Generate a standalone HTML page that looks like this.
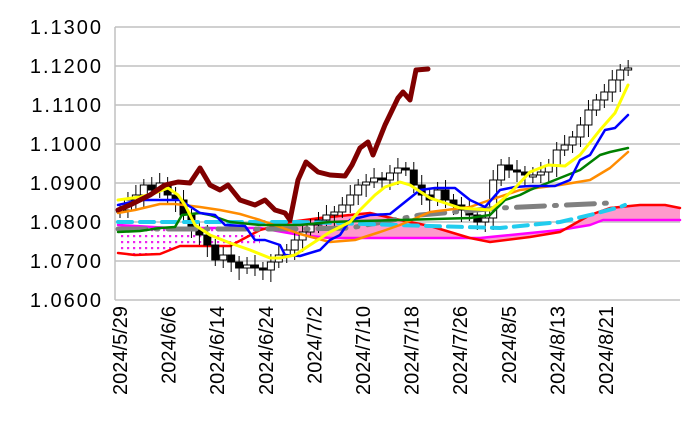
<!DOCTYPE html>
<html><head><meta charset="utf-8"><style>
body{margin:0;background:#fff}
svg{display:block}
text{font-family:"Liberation Sans",sans-serif;font-size:20px;fill:#000}
.yl text{letter-spacing:2px}
</style></head><body>
<svg id="s" width="682" height="437" xmlns="http://www.w3.org/2000/svg">
<defs><pattern id="dots" width="6" height="6" patternUnits="userSpaceOnUse"><rect width="6" height="6" fill="#fff"/><rect x="1" y="1" width="2.2" height="2.2" fill="#ee22ee"/></pattern></defs>
<g stroke="#c0c0c0" stroke-width="1.5">
<line x1="115" y1="27" x2="680" y2="27"/><line x1="115" y1="66" x2="680" y2="66"/><line x1="115" y1="105" x2="680" y2="105"/><line x1="115" y1="144" x2="680" y2="144"/><line x1="115" y1="183" x2="680" y2="183"/><line x1="115" y1="222" x2="680" y2="222"/><line x1="115" y1="261" x2="680" y2="261"/><line x1="115" y1="300" x2="680" y2="300"/>
<line x1="115" y1="27" x2="115" y2="300"/>
</g>
<g text-anchor="end" class="yl">
<text x="103" y="34">1.1300</text><text x="103" y="73">1.1200</text><text x="103" y="112">1.1100</text><text x="103" y="151">1.1000</text><text x="103" y="190">1.0900</text><text x="103" y="229">1.0800</text><text x="103" y="268">1.0700</text><text x="103" y="307">1.0600</text>
</g>
<g text-anchor="end" id="xl"></g>
<polygon points="118,228 260,228 260,246 230,246 180,246 160,254 135,255 118,253" fill="url(#dots)"/>
<polygon points="260,230 290,222 320,218 370,213 400,220 430,226 470,238 490,242 530,237 560,232 590,215 610,208 640,205 665,205 680,208 680,220 603,220 590,225 560,230 500,236 480,238 330,238 300,235 260,228" fill="#ff99cc"/>
<g fill="none" stroke-linejoin="round" stroke-linecap="round">
<polyline stroke="#ff00ff" stroke-width="2.5" points="118,225 170,228 260,228 300,235 330,238 480,238 500,236 560,230 590,225 603,220 680,220"/>
<polyline stroke="#ff0000" stroke-width="2.5" points="118,253 135,255 160,254 180,246 230,246 260,230 290,222 320,218 370,213 400,220 430,226 470,238 490,242 530,237 560,232 590,215 610,208 640,205 665,205 680,208"/>
</g>
<g id="c"></g>
<g fill="none" stroke-linejoin="round" stroke-linecap="round">
<polyline stroke="#808080" stroke-width="5" stroke-dasharray="28,10,2,10" points="118,229 300,229 350,228 420,215 500,208 610,203"/>
<polyline stroke="#22ccee" stroke-width="4" stroke-dasharray="14,8" points="118,222 300,222 430,226 500,228 560,222 590,215 620,207 625,205"/>
<polyline stroke="#ff8c00" stroke-width="2.5" points="118,213 135,210 160,204 175,204 200,207 220,210 240,214 260,220 300,234 330,242 355,240 380,232 400,225 430,212 470,207 490,200 520,190 560,185 590,180 610,168 628,152"/>
<polyline stroke="#008000" stroke-width="2.5" points="118,232 140,231 160,228 175,227 182,215 200,213 210,215 230,222 260,225 300,225 330,222 360,221 400,220 470,218 490,215 505,200 520,195 530,190 560,178 580,170 600,155 610,152 628,148"/>
<polyline stroke="#0000ff" stroke-width="2.5" points="118,205 140,200 160,200 180,200 200,213 215,215 225,225 245,226 255,240 265,240 280,245 285,255 300,256 320,250 330,240 340,235 350,220 370,215 390,214 420,190 435,188 455,188 470,200 485,207 500,190 515,187 530,186 555,186 570,180 580,160 590,155 605,130 615,128 628,115"/>
<polyline stroke="#ffff00" stroke-width="3" points="118,200 140,197 155,193 168,188 178,195 185,205 195,225 210,235 230,243 250,250 270,258 280,258 295,255 310,245 330,232 350,222 360,210 375,195 385,187 400,182 410,185 430,198 460,208 490,210 500,202 515,188 530,172 548,165 565,166 580,155 600,130 615,113 628,85"/>
<polyline stroke="#800000" stroke-width="5" points="118,210 130,205 150,195 165,185 178,182 190,183 200,168 210,185 220,190 228,185 240,200 255,205 265,200 275,210 285,213 290,220 298,180 306,162 318,172 330,175 345,176 352,165 360,148 368,142 373,155 385,125 398,98 403,92 410,100 416,70 428,69"/>
</g>
</svg>
<script>
var cl=[210,200,195,185,190,183,195,200,215,230,235,245,260,255,262,268,265,268,270,262,255,250,240,232,225,220,215,212,205,195,185,182,178,180,173,168,170,185,195,200,190,200,205,210,215,222,218,180,165,170,172,175,175,172,165,150,145,137,125,110,100,92,80,70,68];
var ns="http://www.w3.org/2000/svg",g=document.getElementById('c'),op=212;
for(var i=0;i<cl.length;i++){var x=120+7.94*i,c=cl[i],o=op,t=Math.min(o,c),b=Math.max(o,c);if(b-t<2)b=t+2;
var l=document.createElementNS(ns,'line');l.setAttribute('x1',x);l.setAttribute('x2',x);l.setAttribute('y1',t-6-(i%3)*2);l.setAttribute('y2',b+6+(i%4)*2);l.setAttribute('stroke','#000');g.appendChild(l);
var r=document.createElementNS(ns,'rect');r.setAttribute('x',x-3.5);r.setAttribute('y',t);r.setAttribute('width',7);r.setAttribute('height',b-t);r.setAttribute('fill',c>o?'#000':'#fff');r.setAttribute('stroke','#000');g.appendChild(r);op=c;}
var d=["2024/5/29","2024/6/6","2024/6/14","2024/6/24","2024/7/2","2024/7/10","2024/7/18","2024/7/26","2024/8/5","2024/8/13","2024/8/21"],xl=document.getElementById('xl');
for(var j=0;j<d.length;j++){var x=127+48.6*j,t=document.createElementNS(ns,'text');t.setAttribute('transform','translate('+x+',306) rotate(-90)');t.textContent=d[j];xl.appendChild(t);}
</script>
</body></html>
